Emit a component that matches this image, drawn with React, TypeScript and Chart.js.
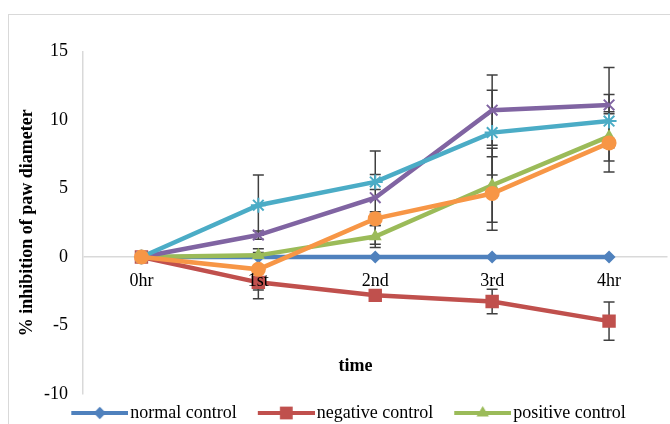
import React, { useEffect, useRef } from 'react';
import { Chart, registerables } from 'chart.js';

Chart.register(...registerables);

// ---- data ----
const categories = ['0hr', '1st', '2nd', '3rd', '4hr'];
const seriesNames = [
  'normal control',
  'negative control',
  'positive control',
  'extract 100 mg/kg',
  'extract 200 mg/kg',
  'extract 400 mg/kg',
];
const normalControl = [0, 0, 0, 0, 0];
const negativeControl = [0, -1.85, -2.8, -3.25, -4.68];
const positiveControl = [0, 0.12, 1.5, 5.24, 8.8];
const extract100 = [0, 1.6, 4.33, 10.72, 11.1];
const extract200 = [0, 3.78, 5.48, 9.08, 9.92];
const extract400 = [0, -0.9, 2.8, 4.63, 8.33];

const normalErr = [0, 0, 0, 0, 0];
const negativeErr = [0, 1.2, 0.4, 0.9, 1.4];
const positiveErr = [0, 0.2, 0.8, 2.7, 1.8];
const extract100Err = [0, 0.3, 3.4, 2.56, 2.73];
const extract200Err = [0, 2.2, 0.55, 3.1, 1.95];
const extract400Err = [0, 1.5, 0.5, 2.68, 2.12];

const yMin = -10;
const yMax = 15;
const yStep = 5;

const seriesValues = [normalControl, negativeControl, positiveControl, extract100, extract200, extract400];
const seriesErrors = [normalErr, negativeErr, positiveErr, extract100Err, extract200Err, extract400Err];
const seriesColors = ['#4F81BD', '#C0504D', '#9BBB59', '#8064A2', '#4BACC6', '#F79646'];
const seriesMarkers = ['rectRot', 'rect', 'triangle', 'crossRot', 'star', 'circle'];
const markerRadius = [6.5, 9.5, 7.5, 7.5, 7.5, 7.5];

const FONT = "'Liberation Serif', 'Times New Roman', serif";
const CANVAS_W = 668;
const CANVAS_H = 445;

function drawMarker(ctx: CanvasRenderingContext2D, style: string, x: number, y: number, r: number, color: string) {
  ctx.save();
  ctx.fillStyle = color;
  ctx.strokeStyle = color;
  ctx.lineWidth = 2;
  ctx.beginPath();
  if (style === 'rectRot') {
    ctx.moveTo(x - r, y);
    ctx.lineTo(x, y - r);
    ctx.lineTo(x + r, y);
    ctx.lineTo(x, y + r);
    ctx.closePath();
    ctx.fill();
  } else if (style === 'rect') {
    const s = r * Math.SQRT1_2;
    ctx.rect(x - s, y - s, 2 * s, 2 * s);
    ctx.fill();
  } else if (style === 'triangle') {
    let a = 0;
    ctx.moveTo(x + Math.sin(a) * r, y - Math.cos(a) * r);
    a += (2 * Math.PI) / 3;
    ctx.lineTo(x + Math.sin(a) * r, y - Math.cos(a) * r);
    a += (2 * Math.PI) / 3;
    ctx.lineTo(x + Math.sin(a) * r, y - Math.cos(a) * r);
    ctx.closePath();
    ctx.fill();
  } else if (style === 'circle') {
    ctx.arc(x, y, r, 0, Math.PI * 2);
    ctx.fill();
  } else {
    const o = r * Math.SQRT1_2;
    ctx.moveTo(x - o, y - o);
    ctx.lineTo(x + o, y + o);
    ctx.moveTo(x - o, y + o);
    ctx.lineTo(x + o, y - o);
    if (style === 'star') {
      ctx.moveTo(x - r, y);
      ctx.lineTo(x + r, y);
      ctx.moveTo(x, y - r);
      ctx.lineTo(x, y + r);
    }
    ctx.stroke();
  }
  ctx.restore();
}

// legend symbol: a short line with the marker, drawn on an image
function legendImage(i: number): HTMLCanvasElement {
  const c = document.createElement('canvas');
  c.width = 75;
  c.height = 18;
  const ctx = c.getContext('2d')!;
  ctx.strokeStyle = seriesColors[i];
  ctx.lineWidth = 4;
  ctx.beginPath();
  ctx.moveTo(18, 9);
  ctx.lineTo(75, 9);
  ctx.stroke();
  drawMarker(ctx, seriesMarkers[i], 46.5, 9, markerRadius[i] * 0.95, seriesColors[i]);
  return c;
}

const errorBarPlugin = {
  id: 'errorBars',
  beforeDatasetsDraw(chart: any) {
    const { ctx } = chart;
    const xs = chart.scales.x;
    const ys = chart.scales.y;
    ctx.save();
    ctx.strokeStyle = '#404040';
    ctx.lineWidth = 1.5;
    seriesValues.forEach((vals, i) => {
      const errs = seriesErrors[i];
      vals.forEach((v, j) => {
        const e = errs[j];
        if (!e) return;
        const px = xs.getPixelForValue(j);
        const top = ys.getPixelForValue(v + e);
        const bot = ys.getPixelForValue(v - e);
        ctx.beginPath();
        ctx.moveTo(px, top);
        ctx.lineTo(px, bot);
        ctx.moveTo(px - 5.5, top);
        ctx.lineTo(px + 5.5, top);
        ctx.moveTo(px - 5.5, bot);
        ctx.lineTo(px + 5.5, bot);
        ctx.stroke();
      });
    });
    ctx.restore();
  },
};

const xTitlePlugin = {
  id: 'xTitle',
  afterDraw(chart: any) {
    const { ctx } = chart;
    ctx.save();
    ctx.font = `bold 18px ${FONT}`;
    ctx.fillStyle = '#000';
    ctx.textAlign = 'center';
    ctx.textBaseline = 'middle';
    ctx.fillText('time', 346.5, 351);
    ctx.restore();
  },
};

export default function App() {
  const ref = useRef<HTMLCanvasElement>(null);

  useEffect(() => {
    if (!ref.current) return;
    const images = seriesNames.map((_, i) => legendImage(i));
    const chart = new Chart(ref.current, {
      type: 'line',
      data: {
        labels: categories,
        datasets: seriesNames.map((name, i) => ({
          label: name,
          data: seriesValues[i],
          borderColor: seriesColors[i],
          backgroundColor: seriesColors[i],
          borderWidth: 4.5,
          pointStyle: seriesMarkers[i] as any,
          pointRadius: markerRadius[i],
          pointBorderWidth: seriesMarkers[i] === 'star' || seriesMarkers[i] === 'crossRot' ? 2 : 0,
          pointBorderColor: seriesColors[i],
          pointBackgroundColor: seriesColors[i],
          tension: 0,
          fill: false,
          order: seriesNames.length - i,
        })),
      },
      options: {
        animation: false,
        responsive: false,
        maintainAspectRatio: false,
        layout: { padding: { top: 36.5, left: 0, right: 0, bottom: 0 } },
        font: { family: FONT },
        plugins: {
          tooltip: { enabled: false },
          legend: {
            position: 'bottom',
            labels: {
              usePointStyle: true,
              pointStyleWidth: 61,
              padding: 10,
              color: '#000',
              font: { family: FONT, size: 18 },
              generateLabels: () =>
                seriesNames.map((name, i) => ({
                  text: name,
                  fillStyle: seriesColors[i],
                  strokeStyle: seriesColors[i],
                  lineWidth: 0,
                  pointStyle: images[i] as any,
                  hidden: false,
                  datasetIndex: i,
                  fontColor: '#000',
                })),
            },
          },
        },
        scales: {
          x: {
            type: 'category',
            position: { y: 0 } as any,
            offset: true,
            grid: { display: false, drawTicks: false },
            border: { display: false },
            ticks: {
              color: '#000',
              font: { family: FONT, size: 18 },
              padding: 13,
              maxRotation: 0,
              autoSkip: false,
              z: 1,
            } as any,
          },
          y: {
            type: 'linear',
            position: 'left',
            min: yMin,
            max: yMax,
            ticks: { stepSize: yStep, color: '#000', font: { family: FONT, size: 18 }, padding: 15 },
            grid: {
              display: true,
              drawTicks: false,
              lineWidth: 1.5,
              color: (c: any) => (c.tick && c.tick.value === 0 ? '#d9d9d9' : 'rgba(0,0,0,0)'),
            },
            border: { display: true, color: '#d9d9d9', width: 1.5 },
            title: {
              display: true,
              text: '% inhibition of paw diameter',
              color: '#000',
              font: { family: FONT, size: 18, weight: 'bold' },
              padding: { top: 8, bottom: 0 },
            },
            afterFit: (s: any) => {
              s.width = 74;
            },
          },
          yR: {
            type: 'linear',
            position: 'right',
            display: true,
            ticks: { display: false },
            grid: { display: false, drawTicks: false },
            border: { display: false },
            afterFit: (s: any) => {
              s.width = 3.5;
            },
          },
        },
      },
      plugins: [errorBarPlugin, xTitlePlugin],
    });
    return () => chart.destroy();
  }, []);

  return (
    <div style={{ position: 'fixed', left: 0, top: 0, width: 670, height: 424, overflow: 'hidden', background: '#fff' }}>
      <div
        style={{
          position: 'absolute',
          left: 8,
          top: 14,
          width: CANVAS_W,
          height: CANVAS_H,
          borderLeft: '1px solid #d9d9d9',
          borderTop: '1px solid #d9d9d9',
        }}
      >
        <canvas
          ref={ref}
          width={CANVAS_W}
          height={CANVAS_H}
          style={{ display: 'block', width: CANVAS_W, height: CANVAS_H }}
        />
      </div>
    </div>
  );
}
